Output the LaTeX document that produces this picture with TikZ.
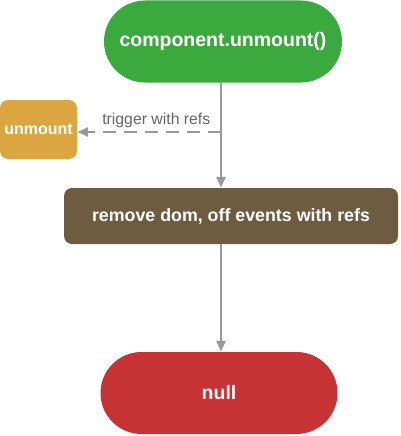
\documentclass[tikz,border=0pt]{standalone}
\usepackage{fontspec}
\setmainfont{Liberation Sans}
\usetikzlibrary{positioning}
\usetikzlibrary{arrows.meta}

\definecolor{startgreen}{HTML}{3AAA3E}
\definecolor{hookorange}{HTML}{DBA640}
\definecolor{stepbrown}{HTML}{6E5C40}
\definecolor{endred}{HTML}{C73234}
\definecolor{flowgray}{HTML}{999999}

\begin{document}
\begin{tikzpicture}[
    x=1pt, y=-1pt,
    pill/.style={rounded corners=41pt, text=white, font=\bfseries\fontsize{19.5}{22}\selectfont,
        minimum width=238pt, minimum height=82pt, inner sep=0pt},
    stepbox/.style={rounded corners=8pt, text=white, font=\bfseries\fontsize{17.8}{20}\selectfont,
        inner sep=0pt},
    flow/.style={draw=flowgray, line width=2.8pt, -{Triangle[length=11pt,width=9pt]}},
  ]

  \useasboundingbox (0,0) rectangle (400,436);

  \node [pill, fill=startgreen] (start) at (223, 41.5) {component.unmount()};
  \node [stepbox, fill=hookorange, minimum width=77pt, minimum height=59pt,
    font=\bfseries\fontsize{16}{18}\selectfont] (unmount) at (38.5, 129.5) {unmount};
  \node [stepbox, fill=stepbrown, minimum width=334pt, minimum height=56pt] (remove) at (231, 216) {remove dom, off events with refs};
  \node [pill, fill=endred, minimum width=237pt] (null) at (219, 393) {null};

  \coordinate (J) at (221, 132);

  \draw [flow] (start.south -| J) -- (remove.north -| J);
  \draw [flow, dash pattern=on 13pt off 8pt] (J) -- node [pos=0.45, above=-1pt, text=black!60, font=\fontsize{15.8}{18}\selectfont] {trigger with refs} (J -| unmount.east);
  \draw [flow] (remove.south -| J) -- (null.north -| J);

\end{tikzpicture}
\end{document}
